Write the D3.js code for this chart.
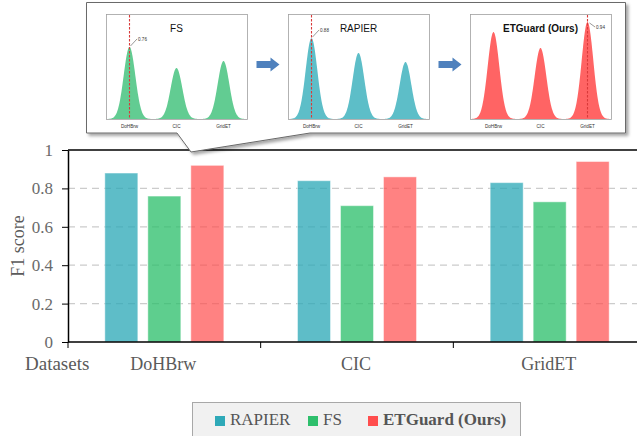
<!DOCTYPE html>
<html><head><meta charset="utf-8">
<script src="https://cdn.jsdelivr.net/npm/d3@7"></script>
<style>body{margin:0;background:#fff}svg{display:block}</style>
</head><body><svg id="c" width="637" height="436"></svg>
<script>
// ---------- data ----------
const categories = ["DoHBrw", "CIC", "GridET"];
const seriesNames = ["RAPIER", "FS", "ETGuard (Ours)"];
const rapier = [0.88, 0.84, 0.83];
const fs = [0.76, 0.71, 0.73];
const etguard = [0.92, 0.86, 0.94];
const yTicks = [0, 0.2, 0.4, 0.6, 0.8, 1];
const yTickLabels = ["0", "0.2", "0.4", "0.6", "0.8", "1"];
// inset (illustrative peak heights, fraction of panel height)
const insetTitles = ["FS", "RAPIER", "ETGuard (Ours)"];
const insetFS = [0.686, 0.486, 0.552];
const insetRAPIER = [0.771, 0.629, 0.543];
const insetETGuard = [0.829, 0.676, 0.924];
const insetMarkCat = ["DoHBrw", "DoHBrw", "GridET"];
const insetMarkLabel = ["0.76", "0.88", "0.94"];

// ---------- styles ----------
const seriesColors = ["#2ea9b8", "#2ebf6c", "#ff4d4d"];
const barOpacity = [0.77, 0.77, 0.70];
const insetColors = ["#62cc92", "#5dbec8", "#ff6464"];
const serif = "'Liberation Serif', 'DejaVu Serif', serif";
const sans = "'Liberation Sans', Arial, sans-serif";

const svg = d3.select("#c");
svg.append("rect").attr("width", 637).attr("height", 436).attr("fill", "#fff");

// ---------- main chart ----------
const L = 68, R = 646, T = 150, B = 342, VIS_R = 637;
const x = d3.scaleBand().domain(categories).range([L, R]);
const xs = d3.scaleBand().domain(seriesNames).range([-64.5, 64.5])
  .paddingInner(10 / 43).paddingOuter(5 / 43);
const y = d3.scaleLinear().domain([0, 1]).range([B, T]);

// grid
svg.append("g").selectAll("line").data(yTicks.filter(t => t > 0 && t < 1)).join("line")
  .attr("x1", L).attr("x2", VIS_R).attr("y1", d => y(d)).attr("y2", d => y(d))
  .attr("stroke", "#cccccc").attr("stroke-width", 1.2).attr("stroke-dasharray", "7,5");

// bars
const seriesValues = [rapier, fs, etguard];
const barG = svg.append("g");
seriesNames.forEach((s, si) => {
  barG.selectAll(null).data(categories).join("rect")
    .attr("x", (c) => x(c) + x.bandwidth() / 2 + xs(s))
    .attr("width", xs.bandwidth())
    .attr("y", (c, i) => y(seriesValues[si][i]))
    .attr("height", (c, i) => B - y(seriesValues[si][i]))
    .attr("fill", seriesColors[si]).attr("fill-opacity", barOpacity[si])
    .attr("stroke", "#ffffff").attr("stroke-opacity", 0.45).attr("stroke-width", 1);
});

// left axis
const yAxis = d3.axisLeft(y).tickValues(yTicks).tickSize(6).tickSizeOuter(0)
  .tickFormat((d, i) => yTickLabels[i]);
const ya = svg.append("g").attr("transform", `translate(${L},0)`).call(yAxis)
  .attr("font-family", serif).attr("font-size", 17);
ya.select(".domain").attr("stroke", "#000").attr("stroke-width", 1.5);
ya.selectAll(".tick line").attr("stroke", "#000").attr("stroke-width", 1);
ya.selectAll(".tick text").attr("x", -15).style("font-family", serif).attr("font-size", 17)
  .attr("fill", "#6a6a6a");

// top border
svg.append("line").attr("x1", L).attr("x2", VIS_R).attr("y1", T).attr("y2", T)
  .attr("stroke", "#000").attr("stroke-width", 1.5);
// bottom axis
svg.append("line").attr("x1", L).attr("x2", VIS_R).attr("y1", B).attr("y2", B)
  .attr("stroke", "#000").attr("stroke-width", 1.5);
svg.append("g").selectAll("line").data(categories).join("line")
  .attr("x1", c => x(c)).attr("x2", c => x(c)).attr("y1", B).attr("y2", B + 6)
  .attr("stroke", "#000").attr("stroke-width", 1);
svg.append("g").selectAll("text").data(categories).join("text")
  .attr("x", c => x(c) + x.bandwidth() / 2 - 1).attr("y", 370)
  .attr("text-anchor", "middle").attr("font-family", serif).attr("font-size", 18)
  .attr("fill", "#5a5a5a").text(c => c);
svg.append("text").attr("x", 25).attr("y", 370).attr("font-family", serif)
  .attr("font-size", 19).attr("fill", "#5a5a5a").text("Datasets");
svg.append("text").attr("transform", "translate(24,246) rotate(-90)")
  .attr("text-anchor", "middle").attr("font-family", serif).attr("font-size", 18)
  .attr("fill", "#5a5a5a").text("F1 score");

// legend
svg.append("rect").attr("x", 192.5).attr("y", 402.5).attr("width", 328).attr("height", 50)
  .attr("fill", "#f1f1f1").attr("stroke", "#a8a8a8").attr("stroke-width", 1);
const legX = [215, 308, 368];
seriesNames.forEach((s, i) => {
  svg.append("rect").attr("x", legX[i]).attr("y", 416).attr("width", 10).attr("height", 10)
    .attr("fill", seriesColors[i]);
  svg.append("text").attr("x", legX[i] + 15).attr("y", 424.5)
    .attr("font-family", serif).attr("font-size", 17)
    .attr("font-weight", i === 2 ? "bold" : "normal")
    .attr("fill", "#555").text(s);
});

// ---------- inset callout ----------
const defs = svg.append("defs");
const f = defs.append("filter").attr("id", "sh").attr("x", "-5%").attr("y", "-5%")
  .attr("width", "115%").attr("height", "125%");
f.append("feDropShadow").attr("dx", 2.5).attr("dy", 2.5).attr("stdDeviation", 1.5)
  .attr("flood-color", "#000").attr("flood-opacity", 0.35);
const callout = d3.path();
callout.moveTo(86.5, 2.5); callout.lineTo(625.5, 2.5); callout.lineTo(625.5, 133);
callout.lineTo(310, 133); callout.lineTo(191, 152); callout.lineTo(177, 133);
callout.lineTo(86.5, 133); callout.closePath();
svg.append("path").attr("d", callout.toString()).attr("fill", "#fff")
  .attr("stroke", "#6a6a6a").attr("stroke-width", 1).attr("filter", "url(#sh)");

const panelX = [106, 288, 470], PW = 141, PT = 14, PB = 119;
const insetData = [insetFS, insetRAPIER, insetETGuard];
const yi = d3.scaleLinear().domain([0, 1]).range([PB, PT]);
const markOffsets = [[1, -8], [1, -8], [2, 5]];
insetData.forEach((peaks, pi) => {
  const px = panelX[pi];
  const g = svg.append("g");
  g.append("rect").attr("x", px + 0.5).attr("y", PT + 0.5).attr("width", PW).attr("height", PB - PT)
    .attr("fill", "#fff").attr("stroke", "#a0a0a0").attr("stroke-width", 0.8);
  const xp = d3.scalePoint().domain(categories).range([px, px + PW]).padding(0.5);
  const sigma = 5.8;
  const samples = d3.range(px + 1, px + PW, 0.5);
  const dens = v => d3.sum(categories, (c, ci) => peaks[ci] * Math.exp(-((v - xp(c)) ** 2) / (2 * sigma * sigma)));
  const area = d3.area().x(d => d).y0(PB).y1(d => yi(dens(d))).curve(d3.curveBasis);
  g.append("path").datum(samples).attr("d", area).attr("fill", insetColors[pi]);
  // labels
  g.selectAll("text.t").data(categories).join("text").attr("class", "t")
    .attr("x", c => xp(c)).attr("y", 127.5).attr("text-anchor", "middle")
    .attr("font-family", sans).attr("font-size", 4.6).attr("fill", "#333").text(c => c);
  // title
  g.append("text").attr("x", px + PW / 2).attr("y", 32).attr("text-anchor", "middle")
    .attr("font-family", sans).attr("font-size", 10)
    .attr("font-weight", pi === 2 ? "bold" : "normal").attr("fill", "#111")
    .text(insetTitles[pi]);
  // marker
  const mc = insetMarkCat[pi];
  const mx = xp(mc);
  const my = yi(peaks[categories.indexOf(mc)]);
  g.append("line").attr("x1", mx).attr("x2", mx).attr("y1", PT + 1).attr("y2", PB)
    .attr("stroke", "#d93a3a").attr("stroke-width", 1.1).attr("stroke-dasharray", "2.5,1.5");
  const [ox, oy] = markOffsets[pi];
  const tx = mx + 8, ty = my + oy;
  g.append("line").attr("x1", mx + ox).attr("y1", my + (oy < 0 ? -1 : 1))
    .attr("x2", tx - 0.5).attr("y2", ty).attr("stroke", "#333").attr("stroke-width", 0.5);
  g.append("text").attr("x", tx + 0.5).attr("y", ty + 1.6).attr("font-family", sans)
    .attr("font-size", 4.6).attr("fill", "#333").text(insetMarkLabel[pi]);
});

// block arrows
[0, 1].forEach(i => {
  const a = panelX[i] + PW, b = panelX[i + 1];
  const cx = (a + b) / 2 + 0.5, cy = 64.5;
  const p = d3.path();
  p.moveTo(cx - 11.5, cy - 3.5); p.lineTo(cx + 2.5, cy - 3.5); p.lineTo(cx + 2.5, cy - 7);
  p.lineTo(cx + 11.5, cy); p.lineTo(cx + 2.5, cy + 7); p.lineTo(cx + 2.5, cy + 3.5);
  p.lineTo(cx - 11.5, cy + 3.5); p.closePath();
  svg.append("path").attr("d", p.toString()).attr("fill", "#4f81bd");
});
</script>
</body></html>
